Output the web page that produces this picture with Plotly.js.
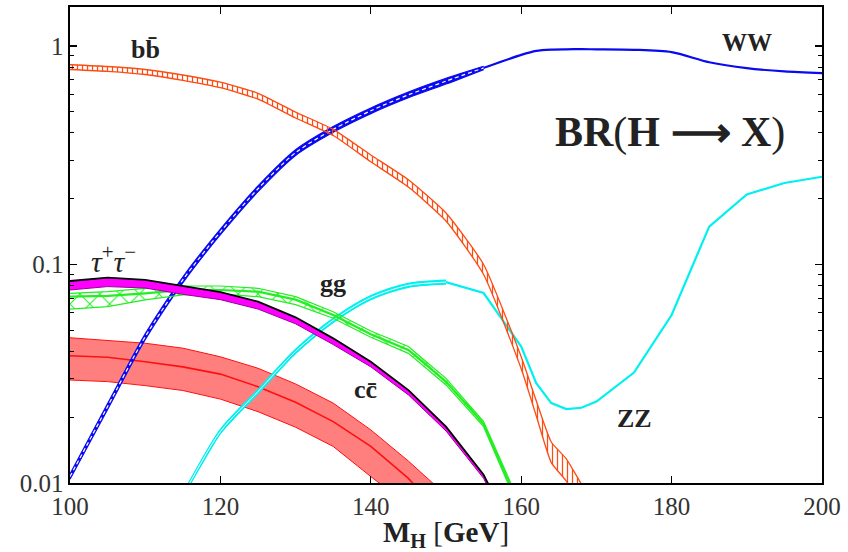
<!DOCTYPE html>
<html>
<head>
<meta charset="utf-8">
<script src="https://cdn.plot.ly/plotly-3.0.1.min.js"></script>
<style>html,body{margin:0;padding:0;background:#fff;} #chart{width:848px;height:552px;}</style>
</head>
<body>
<div id="chart"></div>
<script>
// ---- data (Higgs mass in GeV, branching ratios) ----
const massBB = [100,105,110,115,120,125,130,135,140,145,150,155,160,162,164,166,168,170];
const bbCen  = [0.80,0.785,0.76,0.716,0.663,0.589,0.483,0.402,0.306,0.235,0.165,0.095,0.0355,0.022,0.0139,0.0115,0.0088,0.007];
const bbUp   = [0.82,0.805,0.78,0.736,0.682,0.607,0.498,0.415,0.317,0.244,0.172,0.1,0.0378,0.0238,0.0154,0.0129,0.0099,0.0078];
const bbLow  = [0.78,0.765,0.74,0.696,0.644,0.571,0.468,0.389,0.295,0.226,0.158,0.09,0.0333,0.0203,0.0124,0.0102,0.0078,0.0062];

const massWW = [100,105,110,115,120,125,130,135,140,145,150,155,160,162,164,166,168,170,175,180,185,190,195,200];
const wwCen  = [0.0107,0.0224,0.0467,0.085,0.141,0.222,0.325,0.415,0.505,0.597,0.69,0.793,0.91,0.949,0.962,0.965,0.966,0.965,0.96,0.936,0.842,0.791,0.764,0.75];
const massWWband = [100,105,110,115,120,125,130,135,140,145,150,155];
const wwUp   = [0.011,0.0231,0.0481,0.0876,0.1452,0.2287,0.3348,0.4275,0.52,0.615,0.711,0.807];
const wwLow  = [0.0104,0.0217,0.0453,0.0824,0.1368,0.2153,0.3153,0.4025,0.49,0.579,0.669,0.779];

const massZZ = [110,115,120,125,130,135,140,145,150,155,160,162,164,166,168,170,175,180,185,190,195,200];
const zzCen  = [0.0045,0.0088,0.0172,0.0262,0.040,0.0555,0.0705,0.0803,0.083,0.074,0.0421,0.0286,0.0232,0.0218,0.0221,0.0236,0.032,0.0587,0.149,0.209,0.236,0.252];
const massZZband = [110,115,120,125,130,135,140,145,150];
const zzUp   = [0.0046,0.009,0.0176,0.0268,0.0409,0.0567,0.072,0.082,0.0848];
const zzLow  = [0.0044,0.0086,0.0168,0.0256,0.0391,0.0543,0.069,0.0786,0.0812];

const massTT = [100,105,110,115,120,125,130,135,140,145,150,155,160];
const ttHigh = [0.084,0.087,0.085,0.0795,0.0748,0.0676,0.0573,0.0459,0.0359,0.0266,0.0181,0.0109,0.005];
const ttLow  = [0.0764,0.0792,0.078,0.073,0.069,0.0625,0.0535,0.043,0.034,0.0253,0.0173,0.0105,0.0048];

const massGG = [100,105,110,115,120,125,130,135,140,145,150,155,160];
const ggCen  = [0.0712,0.0718,0.0738,0.0764,0.0764,0.0751,0.069,0.0587,0.0479,0.0406,0.0291,0.0186,0.0075];
const ggUp   = [0.0738,0.0751,0.0778,0.0797,0.0797,0.0778,0.0712,0.0608,0.0496,0.0421,0.0301,0.0191,0.0078];
const ggLow  = [0.0624,0.0641,0.0688,0.0725,0.0733,0.0712,0.0655,0.0567,0.0464,0.0392,0.0281,0.0181,0.0072];

const massCC = [100,105,110,115,120,125,130,135,140,145,150];
const ccCen  = [0.0382,0.0376,0.0359,0.034,0.0315,0.0276,0.0234,0.0191,0.0147,0.0105,0.0068];
const ccUp   = [0.0462,0.0448,0.0436,0.0414,0.0378,0.0335,0.0284,0.0232,0.0175,0.0126,0.0088];
const ccLow  = [0.0296,0.0291,0.0279,0.0265,0.0242,0.0212,0.018,0.0147,0.0107,0.0079,0.0055];

const xTicks = [100,120,140,160,180,200];

// ---- styling ----
const C = {bb:'#ff4a10', ww:'#0a0af0', zz:'#00f0f0', gg:'#22ee22', tt:'#ff00ff', cc:'#ff1010'};
const serif = 'Liberation Serif, Times New Roman, serif';

function ln(x, y, color, width, extra) {
  const t = {x:x, y:y, type:'scatter', mode:'lines', hoverinfo:'skip', showlegend:false,
    line:{color:color, width:width}};
  if (extra) {
    for (const k in extra) {
      if (k === 'line') Object.assign(t.line, extra.line); else t[k] = extra[k];
    }
  }
  return t;
}
const SP = {shape:'spline', smoothing:0.8};
const SPb = {shape:'spline', smoothing:0.5};

const traces = [
  // c cbar band
  ln(massCC, ccLow, C.cc, 1),
  ln(massCC, ccUp, C.cc, 1, {fill:'tonexty', fillcolor:'rgba(255,0,0,0.5)'}),
  ln(massCC, ccCen, C.cc, 1.6),
  // ZZ
  ln(massZZ, zzCen, C.zz, 2.2),
  ln(massZZband, zzLow, C.zz, 1.2, {line:SP}),
  ln(massZZband, zzUp, C.zz, 1.2, {line:SP, fill:'tonexty', fillcolor:C.zz}),
  ln(massZZband, zzCen.slice(0, massZZband.length), '#ffffff', 1, {line:SP}),
  // WW
  ln(massWW, wwCen, C.ww, 2.2, {line:SP}),
  ln(massWWband, wwLow, C.ww, 1.2, {line:SP}),
  ln(massWWband, wwUp, C.ww, 1.2, {line:SP, fill:'tonexty', fillcolor:C.ww}),
  ln(massWWband, wwCen.slice(0, massWWband.length), '#ffffff', 1.2, {line:Object.assign({dash:'4px,3px'}, SP)}),
  // gg
  ln(massGG, ggLow, C.gg, 1.2),
  ln(massGG, ggUp, C.gg, 1.2, {fill:'tonexty', fillcolor:'rgba(255,255,255,0)',
     fillpattern:{shape:'x', fgcolor:C.gg, bgcolor:'rgba(255,255,255,0)', size:14, solidity:0.14}}),
  ln(massGG, ggCen, C.gg, 2.2),
  // tau tau
  ln(massTT, ttLow, '#990099', 1),
  ln(massTT, ttHigh, '#000000', 1.8, {fill:'tonexty', fillcolor:C.tt}),
  // b bbar
  ln(massBB, bbLow, C.bb, 1.3, {line:SPb}),
  ln(massBB, bbUp, C.bb, 1.3, {line:SPb, fill:'tonexty', fillcolor:'rgba(255,255,255,0)',
     fillpattern:{shape:'|', fgcolor:C.bb, bgcolor:'rgba(255,255,255,0)', size:5, solidity:0.25}}),
];

const lab = (x, y, text, size, extra) => Object.assign({x:x, y:y, xref:'x', yref:'y', text:text, showarrow:false,
  font:{family:serif, size:size, color:'#222'}}, extra||{});

const layout = {
  width:848, height:552,
  margin:{l:70, r:26, t:7, b:69},
  paper_bgcolor:'#fff', plot_bgcolor:'#fff',
  showlegend:false,
  xaxis:{range:[100,200], tickmode:'array', tickvals:xTicks, ticks:'inside', ticklen:7, tickwidth:1.2,
    tickcolor:'#000', showline:true, linecolor:'#000', linewidth:1.6, mirror:'ticks', showgrid:false, zeroline:false,
    tickfont:{family:serif, size:25, color:'#333'},
    title:{text:'<b>M<sub>H</sub></b> [<b>GeV</b>]', font:{family:serif, size:29, color:'#222'}, standoff:4}},
  yaxis:{type:'log', range:[-2, 0.178], tickmode:'linear', tick0:0, dtick:1, ticks:'inside', ticklen:7, tickwidth:1.2,
    tickcolor:'#000', showline:true, linecolor:'#000', linewidth:1.6, mirror:'ticks', showgrid:false, zeroline:false,
    tickfont:{family:serif, size:25, color:'#333'},
    minor:{dtick:'D1', ticks:'inside', ticklen:4, tickwidth:1, tickcolor:'#000', showgrid:false}},
  annotations:[
    lab(110.1, -0.018, '<b>bb\u0304</b>', 26),
    lab(190.0, 0.014, '<b>WW</b>', 25),
    lab(179.8, -0.398, '<b>BR</b>(<b>H \u27F6 X</b>)', 42),
    lab(105.8, -0.975, '<i>τ</i><sup>+</sup><i>τ</i><sup>\u2212</sup>', 30),
    lab(135.0, -1.089, '<b>gg</b>', 26),
    lab(139.3, -1.570, '<b>cc\u0304</b>', 26),
    lab(175.0, -1.703, '<b>ZZ</b>', 26)
  ]
};

Plotly.newPlot('chart', traces, layout, {staticPlot:true, displayModeBar:false});
</script>
</body>
</html>
